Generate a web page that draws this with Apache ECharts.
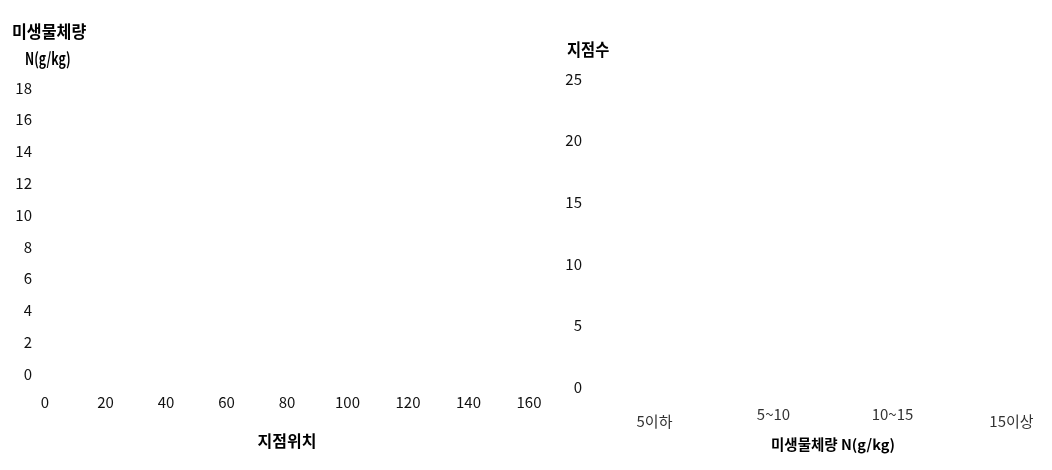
<!DOCTYPE html>
<html><head><meta charset="utf-8">
<script src="https://cdn.jsdelivr.net/npm/echarts@6/dist/echarts.min.js"></script>
<style>html,body{margin:0;padding:0;background:#fff;overflow:hidden}#c{width:1080px;height:470px}</style>
</head><body><div id="c"></div>
<script>
// Left chart: site position vs microbial biomass N (no visible marks in reference)
const siteTicks = [0, 20, 40, 60, 80, 100, 120, 140, 160];
const biomassTicks = [0, 2, 4, 6, 8, 10, 12, 14, 16, 18];
const sitePoints = []; // no points visible in reference
// Right chart: number of sites per biomass class (no visible bars in reference)
const classCategories = ['5이하', '5~10', '10~15', '15이상'];
const classCounts = []; // no bars visible in reference
const countTicks = [0, 5, 10, 15, 20, 25];

const FONT = '"Noto Sans CJK KR", "Noto Sans", sans-serif';
const chart = echarts.init(document.getElementById('c'));
const labelStyle = {color: '#111', fontSize: 15, fontFamily: FONT};
const hidden = {axisLine:{show:false}, axisTick:{show:false}, splitLine:{show:false}};
const titleStyle = {fontSize: 17, fontWeight: 'bold', fill: '#000', fontFamily: FONT};
chart.setOption({
  animation: false,
  grid: [
    {left: 45, width: 484, top: 88, bottom: 96},
    {left: 595, width: 476, top: 79, bottom: 83}
  ],
  xAxis: [
    Object.assign({type: 'value', gridIndex: 0, min: siteTicks[0], max: siteTicks[siteTicks.length-1], interval: 20,
      axisLabel: Object.assign({margin: 21}, labelStyle),
      name: '지점위치', nameLocation: 'middle', nameGap: 59,
      nameTextStyle: {fontSize: 16, fontWeight: 'bold', color: '#000', fontFamily: FONT}}, hidden),
    Object.assign({type: 'category', gridIndex: 1, data: classCategories,
      axisLabel: {margin: 20, color: '#333', fontSize: 15, fontFamily: FONT,
        formatter: function (v) { return /[가-힣]/.test(v) ? '{k|' + v + '}' : v; },
        rich: {k: {padding: [7, 0, 0, 0], color: '#333', fontSize: 15, fontFamily: FONT}}},
      name: '미생물체량 N(g/kg)', nameLocation: 'middle', nameGap: 50,
      nameTextStyle: {fontSize: 14.5, fontWeight: 'bold', color: '#000', fontFamily: FONT}}, hidden)
  ],
  yAxis: [
    Object.assign({type: 'value', gridIndex: 0, min: biomassTicks[0], max: biomassTicks[biomassTicks.length-1], interval: 2,
      axisLabel: Object.assign({margin: 13}, labelStyle)}, hidden),
    Object.assign({type: 'value', gridIndex: 1, min: countTicks[0], max: countTicks[countTicks.length-1], interval: 5,
      axisLabel: Object.assign({margin: 13}, labelStyle)}, hidden)
  ],
  graphic: [
    {type: 'text', left: 12, top: 23, scaleX: 0.95, style: Object.assign({text: '미생물체량'}, titleStyle)},
    {type: 'text', left: 25, top: 50, scaleX: 0.72, style: Object.assign({text: 'N(g/kg)'}, titleStyle)},
    {type: 'text', left: 567, top: 41, scaleX: 0.9, style: Object.assign({text: '지점수'}, titleStyle)}
  ],
  series: [
    {type: 'scatter', xAxisIndex: 0, yAxisIndex: 0, data: sitePoints},
    {type: 'bar', xAxisIndex: 1, yAxisIndex: 1, data: classCounts}
  ]
});
</script></body></html>
